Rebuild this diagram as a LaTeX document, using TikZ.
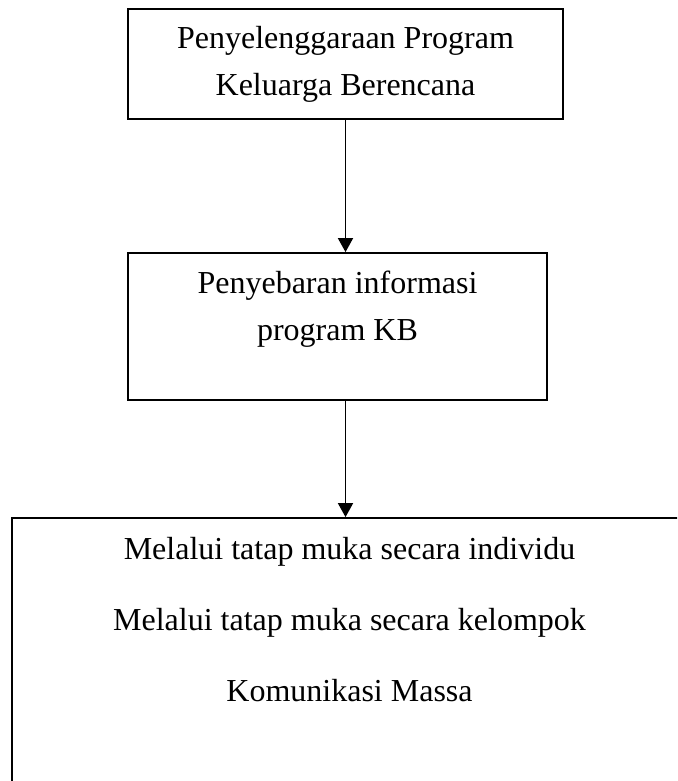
\documentclass[tikz,border=0pt]{standalone}
\usepackage{fontspec}
\setmainfont{Liberation Serif}
\usetikzlibrary{arrows.meta, positioning}

\begin{document}
\begin{tikzpicture}[
    x=0.5pt, y=-0.5pt,
    box/.style={
        rectangle, draw, line width=0.9pt, inner sep=0pt,
        align=center, font=\fontsize{16}{23.5}\selectfont
    },
    txt/.style={
        inner sep=0pt, align=center, font=\fontsize{16}{23.5}\selectfont
    },
    arrow/.style={-{Triangle[length=7pt, width=7.5pt]}, line width=0.9pt}
]
\useasboundingbox (0,0) rectangle (677,781);
\clip (0,0) rectangle (677,781);

% Boxes
\node[box, minimum width=217.5pt, minimum height=55pt] (prog) at (345.5, 64)
    {Penyelenggaraan Program\\Keluarga Berencana};
\node[box, minimum width=209.5pt, minimum height=73.5pt] (info) at (337.5, 326.5) {};
\node[txt, anchor=north] (infotext) at ([yshift=-9pt]info.north) {Penyebaran informasi\\program KB};

% Bottom box (cut off at the page edge)
\node[box, minimum width=354pt, minimum height=156pt] (media) at (366, 674) {};
\node[txt, anchor=north] (mediatext) at ([xshift=2pt, yshift=-10pt]prog.south |- media.north)
    {Melalui tatap muka secara individu\\[12pt]
     Melalui tatap muka secara kelompok\\[12pt]
     Komunikasi Massa};

% Arrows
\draw[arrow] (prog.south) -- (prog.south |- info.north);
\draw[arrow] (prog.south |- info.south) -- (prog.south |- media.north);

\end{tikzpicture}
\end{document}
